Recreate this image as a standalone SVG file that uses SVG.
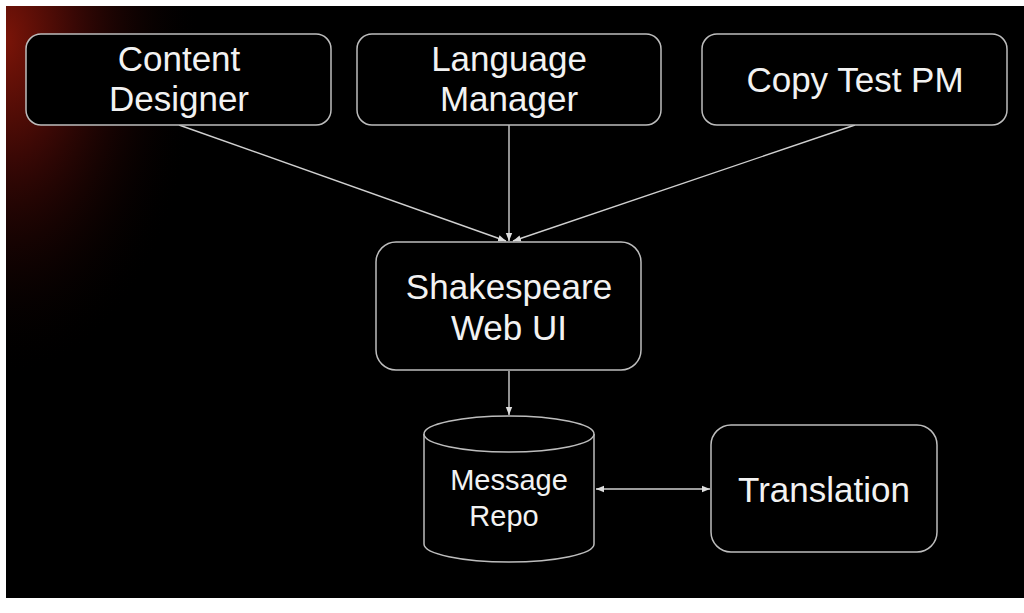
<svg xmlns="http://www.w3.org/2000/svg" width="1024" height="613" viewBox="0 0 1024 613">
<defs>
<radialGradient id="glow" gradientUnits="userSpaceOnUse" cx="6" cy="40" r="260" gradientTransform="translate(6 40) scale(0.75 1.3) translate(-6 -40)">
<stop offset="0" stop-color="#7a1408"/>
<stop offset="0.35" stop-color="#3a0805"/>
<stop offset="1" stop-color="#000000" stop-opacity="0"/>
</radialGradient>
<marker id="ah" viewBox="0 0 10 10" refX="10" refY="5" markerWidth="8" markerHeight="8" orient="auto-start-reverse" markerUnits="userSpaceOnUse">
<path d="M0,1 L10,5 L0,9 z" fill="#dddddd"/>
</marker>
<style>
.box{fill:#000;stroke:#bdbdbd;stroke-width:1.5}
.t{fill:#f2f2f2;font-family:"Liberation Sans",Arial,sans-serif;text-anchor:middle}
.c{stroke:#d0d0d0;stroke-width:1.4;fill:none}
</style>
</defs>
<rect x="0" y="0" width="1024" height="613" fill="#ffffff"/>
<rect x="6" y="6" width="1018" height="592" fill="#000000"/>
<rect x="6" y="6" width="1018" height="592" fill="url(#glow)"/>
<g id="connectors">
<line class="c" x1="179" y1="125" x2="506" y2="241" marker-end="url(#ah)"/>
<line class="c" x1="509" y1="125" x2="509" y2="241" marker-end="url(#ah)"/>
<line class="c" x1="855" y1="125" x2="513" y2="241" marker-end="url(#ah)"/>
<line class="c" x1="509" y1="371" x2="509" y2="415" marker-end="url(#ah)"/>
<line class="c" x1="596" y1="489" x2="710" y2="489" marker-start="url(#ah)" marker-end="url(#ah)"/>
</g>
<g id="content-designer">
<rect class="box" x="26" y="34" width="305" height="91" rx="15"/>
<text class="t" x="179" y="71" font-size="35">Content</text>
<text class="t" x="179" y="111" font-size="35">Designer</text>
</g>
<g id="language-manager">
<rect class="box" x="357" y="34" width="304" height="91" rx="15"/>
<text class="t" x="509" y="71" font-size="35">Language</text>
<text class="t" x="509" y="111" font-size="35">Manager</text>
</g>
<g id="copy-test-pm">
<rect class="box" x="702" y="34" width="305" height="91" rx="15"/>
<text class="t" x="855" y="92" font-size="35">Copy Test PM</text>
</g>
<g id="shakespeare-web-ui">
<rect class="box" x="376" y="242" width="265" height="128" rx="20"/>
<text class="t" x="509" y="299" font-size="35">Shakespeare</text>
<text class="t" x="509" y="340" font-size="35">Web UI</text>
</g>
<g id="message-repo">
<path class="box" d="M424,434 L424,544 A85,18 0 0 0 594,544 L594,434"/>
<ellipse class="box" cx="509" cy="434" rx="85" ry="18"/>
<text class="t" x="509" y="490" font-size="29">Message</text>
<text class="t" x="504" y="526" font-size="29">Repo</text>
</g>
<g id="translation">
<rect class="box" x="711" y="425" width="226" height="127" rx="20"/>
<text class="t" x="824" y="502" font-size="35">Translation</text>
</g>
</svg>
